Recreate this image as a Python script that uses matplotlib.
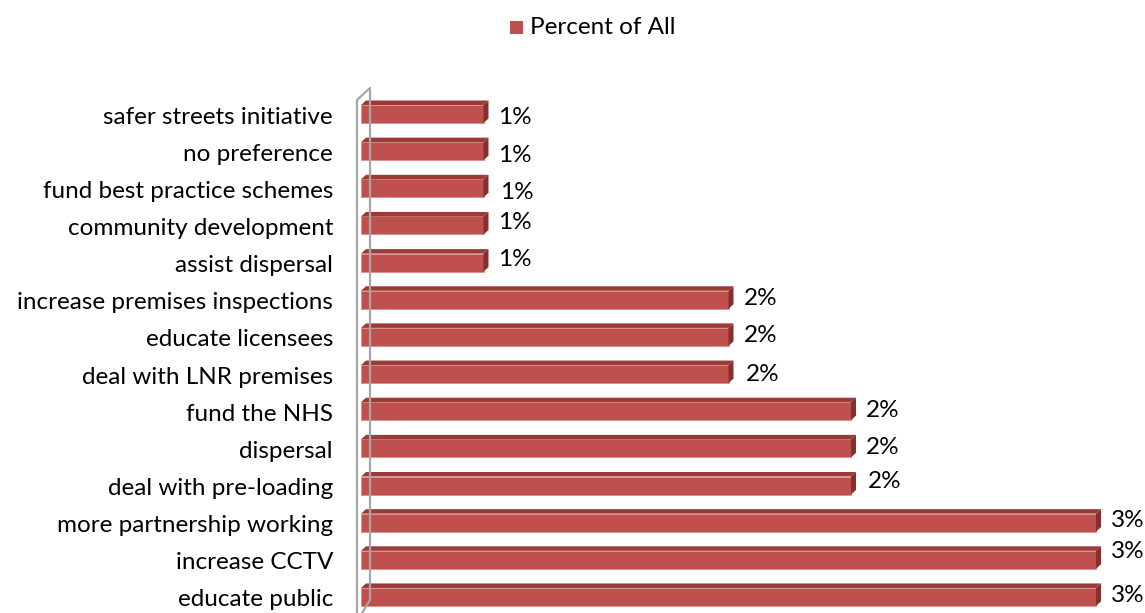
#!/usr/bin/env python3
# Horizontal 3D-look bar chart, "Percent of All"
import matplotlib
matplotlib.use("Agg")
import matplotlib.pyplot as plt
from matplotlib.patches import Polygon, Rectangle
from matplotlib.lines import Line2D

categories = [
    "safer streets initiative",
    "no preference",
    "fund best practice schemes",
    "community development",
    "assist dispersal",
    "increase premises inspections",
    "educate licensees",
    "deal with LNR premises",
    "fund the NHS",
    "dispersal",
    "deal with pre-loading",
    "more partnership working",
    "increase CCTV",
    "educate public",
]
values = [0.5, 0.5, 0.5, 0.5, 0.5, 1.5, 1.5, 1.5, 2.0, 2.0, 2.0, 3.0, 3.0, 3.0]
value_labels = ["1%", "1%", "1%", "1%", "1%", "2%", "2%", "2%",
                "2%", "2%", "2%", "3%", "3%", "3%"]
# small vertical nudges (px) of the data labels, as placed in the original
label_nudge = [3, 4, 4, -3, -3, -1, -1, 0, -1, -1, -4, -2, -8, -1]
label_dx = [15, 15, 17, 15, 15, 15, 15, 17, 15, 15, 17, 15, 15, 15]

FRONT = "#C0504D"
TOP = "#9A3B38"
SIDE = "#86302E"
WALL = "#A6A6A6"
FONT = ["Lato", "DejaVu Sans"]
FS = 17.5

W, H = 1145, 613
fig = plt.figure(figsize=(W / 100, H / 100), dpi=100)

# axes in pixel terms: left edge at x=361, top at y=88, down to the bottom
x0_px, top_px, bot_px = 361, 88, 613
ax = fig.add_axes([x0_px / W, 0, (W - x0_px) / W, (bot_px - top_px) / H])
px_per_unit = 245.0
row_px = 37.15
first_c = 114.0
ax.set_xlim(0, (W - x0_px) / px_per_unit)
ax.set_ylim((bot_px - first_c) / row_px, (top_px - first_c) / row_px)
ax.axis("off")

bh = 18 / row_px
dx = 5 / px_per_unit
dy = -4.5 / row_px

ys = list(range(len(values)))
ax.barh(ys, values, height=bh, color=FRONT, edgecolor="#D9908E", linewidth=0.6, zorder=3)
for y, v in zip(ys, values):
    t = y - bh / 2
    b = y + bh / 2
    ax.add_patch(Polygon([(0, t), (v, t), (v + dx, t + dy), (dx, t + dy)],
                         closed=True, facecolor=TOP, edgecolor="none", zorder=3))
    ax.add_patch(Polygon([(v, t), (v + dx, t + dy), (v + dx, b + dy), (v, b)],
                         closed=True, facecolor=SIDE, edgecolor="none", zorder=3))

for y, v, lab, n, d in zip(ys, values, value_labels, label_nudge, label_dx):
    ax.annotate(lab, xy=(v, y), xytext=(d, -n), textcoords="offset pixels",
                ha="left", va="center", fontsize=FS, family=FONT, color="black",
                annotation_clip=False)

# category labels, right aligned just left of the wall
for y, c in zip(ys, categories):
    ax.annotate(c, xy=(0, y), xytext=(-28, -3), textcoords="offset pixels",
                xycoords="data", ha="right", va="center", fontsize=FS,
                family=FONT, color="black", annotation_clip=False)

# the grey side wall (figure pixel coordinates)
def fx(p):
    return p / W

def fy(p):
    return 1 - p / H

wall = [(357, 613), (357, 100), (370, 88), (370, 600), (362, 613)]
fig.add_artist(Line2D([fx(p[0]) for p in wall], [fy(p[1]) for p in wall],
                      color=WALL, linewidth=1.6, zorder=1))

# legend
fig.add_artist(Rectangle((fx(510), fy(34)), 13 / W, 13 / H, facecolor=FRONT,
                         edgecolor="none", transform=fig.transFigure))
fig.text(fx(530), fy(27), "Percent of All", ha="left", va="center",
         fontsize=FS, family=FONT, color="black")

fig.savefig("out.png", dpi=100)
